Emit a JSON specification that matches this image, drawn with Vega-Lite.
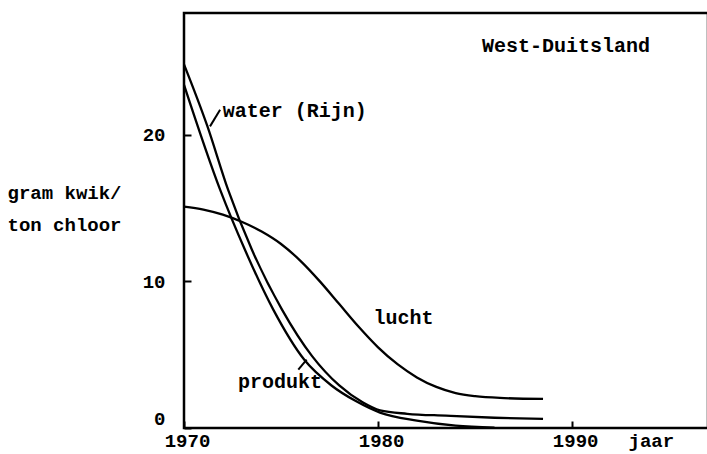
{
  "$schema": "https://vega.github.io/schema/vega-lite/v6.json",
  "width": 524,
  "height": 415,
  "autosize": "none",
  "padding": {"left": 184, "top": 13, "right": 0, "bottom": 26},
  "background": "white",
  "config": {
    "view": {"stroke": "black", "strokeWidth": 2.5},
    "font": "Liberation Mono"
  },
  "layer": [
    {
      "data": {
        "values": [
          {"series": "water (Rijn)", "year": 1970, "value": 24.8},
          {"series": "water (Rijn)", "year": 1971.2, "value": 20.6},
          {"series": "water (Rijn)", "year": 1972.27, "value": 16.25},
          {"series": "water (Rijn)", "year": 1973.5, "value": 12.15},
          {"series": "water (Rijn)", "year": 1975.05, "value": 8.07},
          {"series": "water (Rijn)", "year": 1976.6, "value": 4.9},
          {"series": "water (Rijn)", "year": 1978.0, "value": 2.9},
          {"series": "water (Rijn)", "year": 1979.2, "value": 1.75},
          {"series": "water (Rijn)", "year": 1980.1, "value": 1.2},
          {"series": "water (Rijn)", "year": 1981.5, "value": 0.97},
          {"series": "water (Rijn)", "year": 1983.5, "value": 0.84},
          {"series": "water (Rijn)", "year": 1986, "value": 0.7},
          {"series": "water (Rijn)", "year": 1988.5, "value": 0.62},
          {"series": "produkt", "year": 1970, "value": 23.4},
          {"series": "produkt", "year": 1971.86, "value": 16.25},
          {"series": "produkt", "year": 1973.14, "value": 12.15},
          {"series": "produkt", "year": 1974.6, "value": 8.07},
          {"series": "produkt", "year": 1976.2, "value": 4.65},
          {"series": "produkt", "year": 1977.6, "value": 2.9},
          {"series": "produkt", "year": 1978.9, "value": 1.8},
          {"series": "produkt", "year": 1980.1, "value": 1.05},
          {"series": "produkt", "year": 1982, "value": 0.5},
          {"series": "produkt", "year": 1984, "value": 0.16},
          {"series": "produkt", "year": 1986, "value": 0.03},
          {"series": "lucht", "year": 1970, "value": 15.1},
          {"series": "lucht", "year": 1971, "value": 14.9},
          {"series": "lucht", "year": 1972, "value": 14.55},
          {"series": "lucht", "year": 1973, "value": 14.05},
          {"series": "lucht", "year": 1974, "value": 13.4},
          {"series": "lucht", "year": 1975, "value": 12.55},
          {"series": "lucht", "year": 1976, "value": 11.4},
          {"series": "lucht", "year": 1977, "value": 10.0},
          {"series": "lucht", "year": 1978, "value": 8.45},
          {"series": "lucht", "year": 1979, "value": 6.9},
          {"series": "lucht", "year": 1980, "value": 5.5},
          {"series": "lucht", "year": 1981, "value": 4.35},
          {"series": "lucht", "year": 1982, "value": 3.45},
          {"series": "lucht", "year": 1983, "value": 2.8},
          {"series": "lucht", "year": 1984, "value": 2.38},
          {"series": "lucht", "year": 1985, "value": 2.17},
          {"series": "lucht", "year": 1986.5, "value": 2.04},
          {"series": "lucht", "year": 1988.5, "value": 1.98}
        ]
      },
      "mark": {"type": "line", "interpolate": "monotone", "color": "black", "strokeWidth": 2.3},
      "encoding": {
        "x": {
          "field": "year",
          "type": "quantitative",
          "scale": {"domain": [1970, 1997], "nice": false, "zero": false},
          "axis": {
            "values": [1970, 1980, 1990],
            "format": "d",
            "title": "jaar",
            "domain": false,
            "grid": false,
            "ticks": true,
            "tickSize": -7,
            "tickWidth": 2,
            "tickColor": "black",
            "labelFlush": false,
            "labelOffset": 3,
            "labelFont": "Liberation Mono",
            "labelFontSize": 19,
            "labelFontWeight": "bold",
            "labelColor": "black",
            "labelPadding": 10,
            "titleFont": "Liberation Mono",
            "titleFontSize": 19,
            "titleFontWeight": "bold",
            "titleColor": "black",
            "titleAlign": "left",
            "titleAnchor": "start",
            "titleBaseline": "middle",
            "titleX": 444,
            "titleY": 12
          }
        },
        "y": {
          "field": "value",
          "type": "quantitative",
          "scale": {"domain": [0, 28.3], "nice": false},
          "axis": {
            "values": [0, 10, 20],
            "domain": false,
            "grid": false,
            "tickSize": -7,
            "tickWidth": 2,
            "tickColor": "black",
            "labelFont": "Liberation Mono",
            "labelFontSize": 19,
            "labelFontWeight": "bold",
            "labelColor": "black",
            "labelPadding": 26,
            "labelBaseline": {"condition": {"test": "datum.value == 0", "value": "bottom"}, "value": "middle"},
            "title": ["gram kwik/", "ton chloor"],
            "titleFont": "Liberation Mono",
            "titleFontSize": 19,
            "titleFontWeight": "bold",
            "titleColor": "black",
            "titleAngle": 0,
            "titleAlign": "left",
            "titleBaseline": "top",
            "titleLineHeight": 32,
            "titleX": -177,
            "titleY": 170
          }
        },
        "detail": {"field": "series"}
      }
    },
    {
      "data": {
        "values": [
          {"x1": 1971.34, "y1": 20.57, "x2": 1971.86, "y2": 21.7},
          {"x1": 1975.89, "y1": 3.98, "x2": 1976.32, "y2": 4.66}
        ]
      },
      "mark": {"type": "rule", "color": "black", "strokeWidth": 2},
      "encoding": {
        "x": {"field": "x1", "type": "quantitative"},
        "y": {"field": "y1", "type": "quantitative"},
        "x2": {"field": "x2"},
        "y2": {"field": "y2"}
      }
    },
    {
      "data": {
        "values": [
          {"label": "water (Rijn)", "x": 1972.0, "y": 21.6},
          {"label": "lucht", "x": 1979.76, "y": 7.52},
          {"label": "produkt", "x": 1972.78, "y": 3.16},
          {"label": "West-Duitsland", "x": 1985.35, "y": 26.03}
        ]
      },
      "mark": {"type": "text", "align": "left", "baseline": "middle", "font": "Liberation Mono", "fontSize": 20, "fontWeight": "bold", "color": "black"},
      "encoding": {
        "x": {"field": "x", "type": "quantitative"},
        "y": {"field": "y", "type": "quantitative"},
        "text": {"field": "label"}
      }
    }
  ]
}
